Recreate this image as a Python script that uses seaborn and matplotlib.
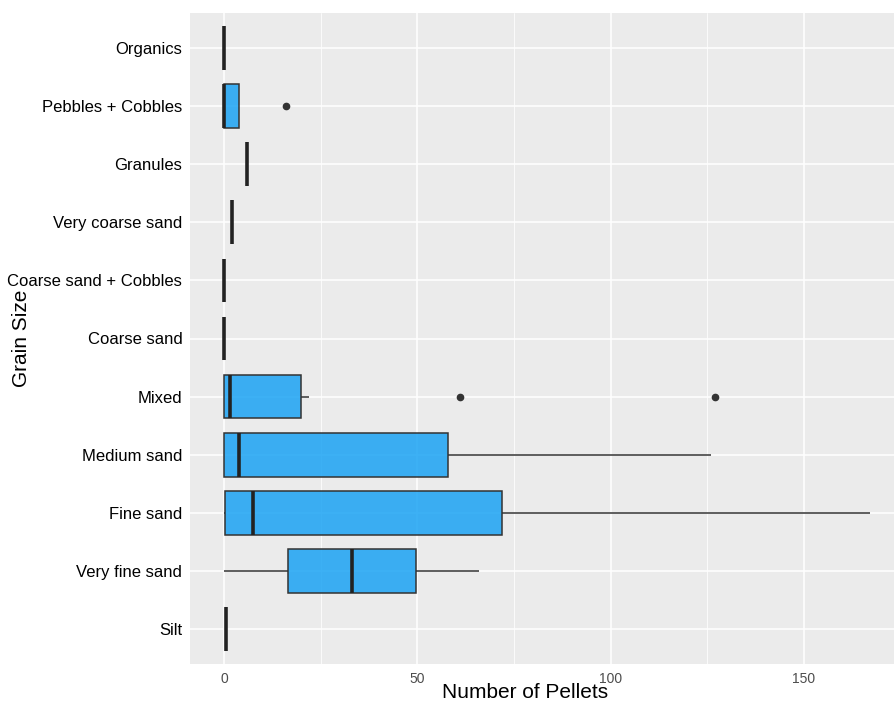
import pandas as pd
import matplotlib
matplotlib.use("Agg")
import matplotlib.pyplot as plt
import seaborn as sns

# Categorías (de arriba a abajo)
categorias = [
    "Organics", "Pebbles + Cobbles", "Granules", "Very coarse sand",
    "Coarse sand + Cobbles", "Coarse sand", "Mixed", "Medium sand",
    "Fine sand", "Very fine sand", "Silt",
]

# Conteos
organics = [0, 0, 0]
pebbles_cobbles = [0, 0, 0, 4, 16]
granules = [6]
very_coarse_sand = [2]
coarse_sand_cobbles = [0]
coarse_sand = [0]
mixed = [0, 0, 0, 0, 0.5, 1, 1.5, 5, 15, 20, 22, 61, 127]
medium_sand = [0, 0, 4, 58, 126]
fine_sand = [0, 0.3, 7.5, 72, 167]
very_fine_sand = [0, 16.5, 33, 49.7, 66]
silt = [0.5]

valores = [organics, pebbles_cobbles, granules, very_coarse_sand,
           coarse_sand_cobbles, coarse_sand, mixed, medium_sand,
           fine_sand, very_fine_sand, silt]

filas = []
for cat, vals in zip(categorias, valores):
    for v in vals:
        filas.append({"Grain Size": cat, "Number of Pellets": v})
datos = pd.DataFrame(filas)

sns.set_style("darkgrid", {"axes.facecolor": "#EBEBEB", "grid.color": "white"})
plt.rcParams["font.family"] = ["Liberation Sans", "DejaVu Sans"]

fig = plt.figure(figsize=(8.94, 7.03), dpi=100)
ax = fig.add_axes([190 / 894, 39 / 703, 704 / 894, 651 / 703])

sns.boxplot(
    data=datos, x="Number of Pellets", y="Grain Size", order=categorias,
    orient="h", width=0.75, linewidth=1.1, linecolor="#333333",
    boxprops={"facecolor": (27 / 255, 163 / 255, 244 / 255, 0.85)},
    medianprops={"linewidth": 2.6, "color": "#222222"},
    flierprops={"marker": "o", "markerfacecolor": "#333333",
                "markeredgecolor": "#333333", "markersize": 4.5},
    showcaps=False, ax=ax,
)

ax.set_xlim(-8.8, 173.3)
ax.set_ylim(len(categorias) - 0.4, -0.6)
ax.set_xticks([0, 50, 100, 150])
ax.set_xticks([25, 75, 125], minor=True)
ax.grid(True, which="major", color="white", linewidth=1.1)
ax.grid(True, which="minor", axis="x", color="white", linewidth=0.55)
ax.set_axisbelow(True)
for s in ax.spines.values():
    s.set_visible(False)

ax.tick_params(axis="y", which="major", length=3.5, width=0.9, color="#333333",
               labelsize=12, labelcolor="black", pad=2)
ax.tick_params(axis="x", which="major", length=3.5, width=0.9, color="#333333",
               labelsize=10, labelcolor="#4D4D4D", pad=2)
ax.tick_params(axis="x", which="minor", length=0)

ax.set_xlabel("Number of Pellets", fontsize=15, color="black")
ax.xaxis.set_label_coords(0.476, -0.029)
ax.set_ylabel("Grain Size", fontsize=15, color="black")
ax.yaxis.set_label_coords(-0.226, 0.5)

fig.savefig("out.png", dpi=100)
